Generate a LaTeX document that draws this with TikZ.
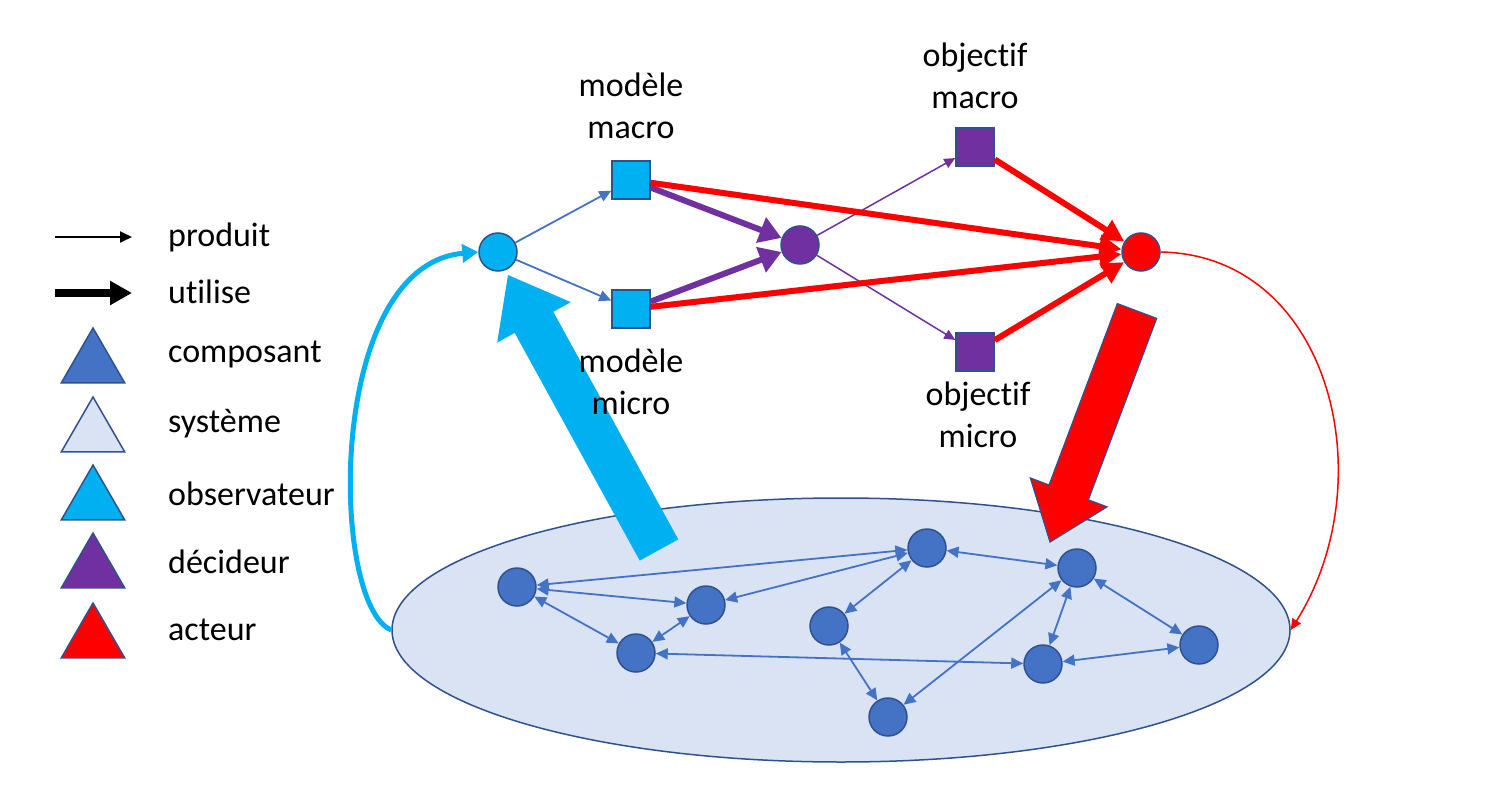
\documentclass[tikz,border=0pt]{standalone}
\usepackage{fontspec}
\setmainfont[Ligatures=NoCommon]{Carlito}
\usepackage{tikz}
\usetikzlibrary{arrows.meta,shapes,positioning,calc}
\definecolor{bordblue}{RGB}{47,82,143}
\definecolor{compblue}{RGB}{68,114,196}
\definecolor{sysblue}{RGB}{218,227,243}
\definecolor{obscyan}{RGB}{0,176,240}
\definecolor{decpurple}{RGB}{112,48,160}
\definecolor{actred}{RGB}{255,0,0}

\newcommand{\blocarrow}[6]{%
  \coordinate (hb) at ($(#3)!#5!(#2)$);
  \path[#1] ($(#2)!#4!90:(#3)$) -- ($(hb)!#4!90:(#3)$) -- ($(hb)!#6!90:(#3)$) -- (#3)
     -- ($(hb)!#6!-90:(#3)$) -- ($(hb)!#4!-90:(#3)$) -- ($(#2)!#4!-90:(#3)$) -- cycle;}

\begin{document}
\begin{tikzpicture}[x=1pt, y=-1pt, on grid, font=\fontsize{34}{42}\selectfont,
    rond/.style={circle, draw=bordblue, line width=1.5pt, minimum size=38pt, inner sep=0pt},
    carre/.style={rectangle, draw=bordblue, line width=1.5pt, minimum size=38pt, inner sep=0pt},
    triang/.style={regular polygon, regular polygon sides=3, draw=bordblue, line width=1.5pt, minimum size=73pt, inner sep=0pt},
    lien/.style={{Triangle[length=12pt,width=11pt]}-{Triangle[length=12pt,width=11pt]}, color=compblue, line width=1.8pt},
    produit/.style={-{Triangle[length=12pt,width=11pt]}, line width=1.8pt},
    mince/.style={-{Triangle[length=11pt,width=10pt]}, line width=1.5pt},
    utilise/.style={-{Triangle[length=22pt,width=26pt]}, line width=6pt},
    rouge/.style={-{Triangle[length=22pt,width=22pt]}, color=actred, line width=6pt},
    titre/.style={align=center, inner sep=0pt}]
        \useasboundingbox (0,0) rectangle (1503,794);

        \node[ellipse, draw=bordblue, fill=sysblue, line width=1.5pt, minimum width=898pt, minimum height=264pt, inner sep=0pt] (sys) at (841,630) {};
        \node[rond, fill=compblue] (c_1) at (517,587)  {};
        \node[rond, fill=compblue] (c_2) at (706,605)  {};
        \node[rond, fill=compblue] (c_3) at (636,653)  {};
        \node[rond, fill=compblue] (c_4) at (927,548)  {};
        \node[rond, fill=compblue] (c_5) at (829,626)  {};
        \node[rond, fill=compblue] (c_6) at (1077,568) {};
        \node[rond, fill=compblue] (c_7) at (888,717)  {};
        \node[rond, fill=compblue] (c_8) at (1043,664) {};
        \node[rond, fill=compblue] (c_9) at (1199,645) {};

        \path[lien] (c_1) edge (c_4)
                    (c_1) edge (c_2)
                    (c_1) edge (c_3)
                    (c_3) edge (c_2)
                    (c_4) edge (c_2)
                    (c_4) edge (c_5)
                    (c_4) edge (c_6)
                    (c_3) edge (c_8)
                    (c_5) edge (c_7)
                    (c_7) edge (c_6)
                    (c_6) edge (c_8)
                    (c_6) edge (c_9)
                    (c_8) edge (c_9);

        \node[rond, fill=obscyan]     (obs)                               at (498,252) {};
        \node[carre, fill=obscyan]    (mma) [above right=72pt and 133pt of obs] {};
        \node[carre, fill=obscyan]    (mmi) [below right=57pt and 133pt of obs] {};
        \node[rond, fill=decpurple]   (dec) [above right=7pt and 302pt of obs]  {};
        \node[carre, fill=decpurple]  (oma) [above right=98pt and 175pt of dec] {};
        \node[carre, fill=decpurple]  (omi) [below right=107pt and 175pt of dec] {};
        \node[rond, fill=actred]      (act) [right=643pt of obs]               {};

        \coordinate (obsfoot) at (659,550);
        \coordinate (obstip)  at (508,275);
        \coordinate (acthead) at (1137,311);
        \coordinate (acttip)  at (1050,542);
        \blocarrow{fill=obscyan}{obsfoot}{obstip}{22pt}{54pt}{42pt}
        \blocarrow{fill=actred, draw=bordblue, line width=1.2pt}{acthead}{acttip}{21pt}{53pt}{41pt}

        \draw[-{Triangle[length=16pt,width=18pt]}, color=obscyan, line width=5pt]
            (sys.west) .. controls (330,605) and (325,265) .. (obs.west);
        \draw[mince, color=actred]
            (act.east) .. controls (1330,255) and (1385,480) .. (sys.east);

        \path[produit, color=compblue] (obs) edge (mma)
                                       (obs) edge (mmi);
        \path[utilise, color=decpurple] (mma) edge (dec)
                                        (mmi) edge (dec);
        \path[mince, color=decpurple]   (dec) edge (oma)
                                        (dec) edge (omi);
        \path[rouge] (mma) edge (act)
                     (mmi) edge (act)
                     (oma) edge (act)
                     (omi) edge (act);

        \node[titre] (t_mma) [above=74pt of mma] {modèle\\macro};
        \node[titre] (t_mmi) [below=73pt of mmi] {modèle\\micro};
        \node[titre] (t_oma) [above=71pt of oma] {objectif\\macro};
        \node[titre] (t_omi) [below right=63pt and 3pt of omi] {objectif\\micro};

        \coordinate (l_1) at (55,237);
        \coordinate (l_2) at (132,237);
        \coordinate (l_3) at (55,293);
        \coordinate (l_4) at (132,293);
        \draw[produit] (l_1) -- (l_2);
        \draw[-{Triangle[length=22pt,width=23pt]}, line width=8pt] (l_3) -- (l_4);
        \node[triang, fill=compblue] (g_1) at (93,364.5) {};
        \node[triang, fill=sysblue]  (g_2) at (93,433.5) {};
        \node[triang, fill=obscyan]  (g_3) at (93,501.5) {};
        \node[triang, fill=decpurple] (g_4) at (93,569.5) {};
        \node[triang, fill=actred]   (g_5) at (93,639.5) {};
        \node[anchor=base west, inner sep=0pt] (e_1) at (168,247) {produit};
        \node[anchor=base west, inner sep=0pt] (e_2) at (168,303) {utilise};
        \node[anchor=base west, inner sep=0pt] (e_3) at (168,362) {composant};
        \node[anchor=base west, inner sep=0pt] (e_4) at (168,432) {système};
        \node[anchor=base west, inner sep=0pt] (e_5) at (168,505) {observateur};
        \node[anchor=base west, inner sep=0pt] (e_6) at (168,573) {décideur};
        \node[anchor=base west, inner sep=0pt] (e_7) at (168,640) {acteur};
\end{tikzpicture}
\end{document}
